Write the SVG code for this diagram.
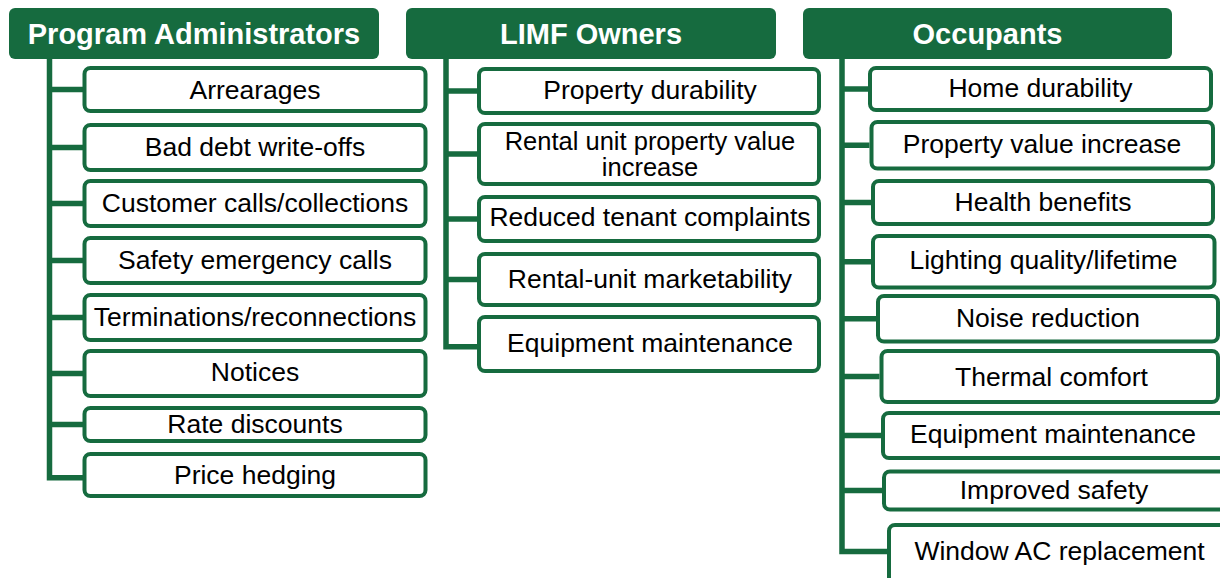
<svg xmlns="http://www.w3.org/2000/svg" width="1220" height="578" viewBox="0 0 1220 578">
  <style>
    .hdr { fill: #166B3F; }
    .hdr-t { fill: #ffffff; font-family: "Liberation Sans", Arial, sans-serif; font-weight: bold; font-size: 29px; text-anchor: middle; }
    .box { fill: #ffffff; stroke: #166B3F; stroke-width: 4; }
    .box-t { fill: #000000; font-family: "Liberation Sans", Arial, sans-serif; font-size: 26.5px; text-anchor: middle; }
    .box-t2 { fill: #000000; font-family: "Liberation Sans", Arial, sans-serif; font-size: 25.5px; text-anchor: middle; }
    .conn { fill: none; stroke: #166B3F; stroke-width: 5.5; stroke-linecap: butt; stroke-linejoin: miter; }
  </style>
  <rect width="1220" height="578" fill="#ffffff"/>

  <!-- connectors: one trunk per header, one branch per item -->
  <g id="connectors" class="conn">
    <path d="M49.5,59 V477.7 H83"/>
    <path d="M49.5,89.5 H83 M49.5,147.5 H83 M49.5,203.5 H83 M49.5,260.5 H83 M49.5,317.5 H83 M49.5,373.5 H83 M49.5,424.5 H83"/>

    <path d="M446,59 V346.7 H477"/>
    <path d="M446,91 H477 M446,154 H477 M446,219 H477 M446,279.5 H477"/>

    <path d="M842,59 V551.5 H887"/>
    <path d="M842,89 H868 M842,145.3 H869.5 M842,202.5 H871 M842,261.7 H871 M842,318.7 H876 M842,376.5 H879.5 M842,435.5 H881 M842,490.5 H882"/>
  </g>

  <!-- Program Administrators -->
  <g id="program-administrators">
    <rect class="hdr" x="9" y="8" width="370" height="51" rx="6"/>
    <text class="hdr-t" x="194" y="43.5">Program Administrators</text>
  </g>
  <g id="pa-arrearages">
    <rect class="box" x="84.5" y="68" width="341" height="43" rx="6"/>
    <text class="box-t" x="255" y="98.5">Arrearages</text>
  </g>
  <g id="pa-bad-debt">
    <rect class="box" x="84.5" y="125" width="341" height="45" rx="6"/>
    <text class="box-t" x="255" y="156">Bad debt write-offs</text>
  </g>
  <g id="pa-customer-calls">
    <rect class="box" x="84.5" y="181" width="341" height="45" rx="6"/>
    <text class="box-t" x="255" y="212">Customer calls/collections</text>
  </g>
  <g id="pa-safety-calls">
    <rect class="box" x="84.5" y="238" width="341" height="45" rx="6"/>
    <text class="box-t" x="255" y="269">Safety emergency calls</text>
  </g>
  <g id="pa-terminations">
    <rect class="box" x="84.5" y="295" width="341" height="45" rx="6"/>
    <text class="box-t" x="255" y="325.5">Terminations/reconnections</text>
  </g>
  <g id="pa-notices">
    <rect class="box" x="84.5" y="351" width="341" height="45" rx="6"/>
    <text class="box-t" x="255" y="381">Notices</text>
  </g>
  <g id="pa-rate-discounts">
    <rect class="box" x="84.5" y="408" width="341" height="33" rx="6"/>
    <text class="box-t" x="255" y="432.7">Rate discounts</text>
  </g>
  <g id="pa-price-hedging">
    <rect class="box" x="84.5" y="454" width="341" height="42" rx="6"/>
    <text class="box-t" x="255" y="483.5">Price hedging</text>
  </g>

  <!-- LIMF Owners -->
  <g id="limf-owners">
    <rect class="hdr" x="406" y="8" width="370" height="51" rx="6"/>
    <text class="hdr-t" x="591" y="43.5">LIMF Owners</text>
  </g>
  <g id="lo-property-durability">
    <rect class="box" x="479" y="69" width="340" height="44" rx="6"/>
    <text class="box-t" x="650" y="99">Property durability</text>
  </g>
  <g id="lo-rental-value">
    <rect class="box" x="479" y="124" width="340" height="60" rx="6"/>
    <text class="box-t2" x="650" y="149.5">Rental unit property value</text>
    <text class="box-t2" x="650" y="176">increase</text>
  </g>
  <g id="lo-tenant-complaints">
    <rect class="box" x="479" y="197" width="340" height="44" rx="6"/>
    <text class="box-t" x="650" y="226">Reduced tenant complaints</text>
  </g>
  <g id="lo-marketability">
    <rect class="box" x="479" y="254" width="340" height="51" rx="6"/>
    <text class="box-t" x="650" y="288.3">Rental-unit marketability</text>
  </g>
  <g id="lo-equipment-maintenance">
    <rect class="box" x="479" y="317" width="340" height="54" rx="6"/>
    <text class="box-t" x="650" y="351.7">Equipment maintenance</text>
  </g>

  <!-- Occupants -->
  <g id="occupants">
    <rect class="hdr" x="803" y="8" width="369" height="51" rx="6"/>
    <text class="hdr-t" x="987.5" y="43.5">Occupants</text>
  </g>
  <g id="oc-home-durability">
    <rect class="box" x="870" y="68" width="341" height="42" rx="6"/>
    <text class="box-t" x="1040.5" y="97">Home durability</text>
  </g>
  <g id="oc-property-value">
    <rect class="box" x="871.5" y="122" width="341.5" height="46.5" rx="6"/>
    <text class="box-t" x="1042" y="153.3">Property value increase</text>
  </g>
  <g id="oc-health">
    <rect class="box" x="873" y="181" width="340" height="43" rx="6"/>
    <text class="box-t" x="1043" y="210.7">Health benefits</text>
  </g>
  <g id="oc-lighting">
    <rect class="box" x="873" y="236" width="341.5" height="51.5" rx="6"/>
    <text class="box-t" x="1043.5" y="269.3">Lighting quality/lifetime</text>
  </g>
  <g id="oc-noise">
    <rect class="box" x="878" y="296" width="340" height="45.5" rx="6"/>
    <text class="box-t" x="1048" y="326.7">Noise reduction</text>
  </g>
  <g id="oc-thermal">
    <rect class="box" x="881.5" y="351" width="336.5" height="51" rx="6"/>
    <text class="box-t" x="1051.5" y="386">Thermal comfort</text>
  </g>
  <g id="oc-equipment-maintenance">
    <rect class="box" x="883" y="413" width="345" height="45" rx="6"/>
    <text class="box-t" x="1053" y="443.3">Equipment maintenance</text>
  </g>
  <g id="oc-improved-safety">
    <rect class="box" x="884" y="471.5" width="345" height="38" rx="6"/>
    <text class="box-t" x="1054" y="498.5">Improved safety</text>
  </g>
  <g id="oc-window-ac">
    <rect class="box" x="889" y="525" width="345" height="60" rx="6"/>
    <text class="box-t" x="1059.5" y="560">Window AC replacement</text>
  </g>
</svg>
